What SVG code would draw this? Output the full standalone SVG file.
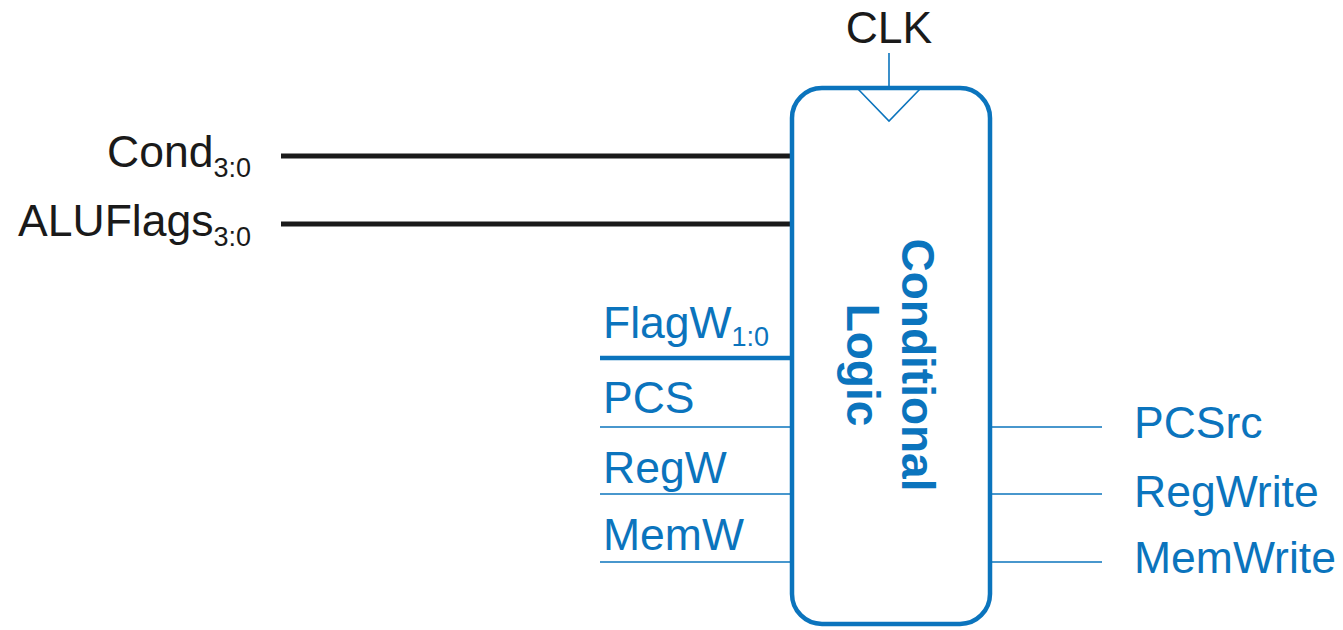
<svg xmlns="http://www.w3.org/2000/svg" width="1343" height="630" viewBox="0 0 1343 630">
<style>
text{font-family:"Liberation Sans",Arial,sans-serif;font-size:44.5px}
.k{fill:#1a1a1a}
.b{fill:#0B74BD}
.sub{font-size:27px}
.bold{font-weight:bold;font-size:46px}
.thick{stroke:#1a1a1a;stroke-width:5;fill:none}
.bthick{stroke:#0B74BD;stroke-width:4.5;fill:none}
.thin{stroke:#0B74BD;stroke-width:1.6;fill:none}
</style>
<rect width="1343" height="630" fill="#fff"/>
<g id="connectors">
<line class="thick" x1="281" y1="156" x2="791" y2="156"/>
<line class="thick" x1="281" y1="224" x2="791" y2="224"/>
<line class="bthick" x1="600" y1="358" x2="791" y2="358"/>
<line class="thin" x1="600" y1="427" x2="791" y2="427"/>
<line class="thin" x1="600" y1="494" x2="791" y2="494"/>
<line class="thin" x1="600" y1="562" x2="791" y2="562"/>
<line class="thin" x1="990" y1="427" x2="1102" y2="427"/>
<line class="thin" x1="990" y1="494" x2="1102" y2="494"/>
<line class="thin" x1="990" y1="562" x2="1102" y2="562"/>
<line class="thin" x1="889" y1="53" x2="889" y2="88"/>
</g>
<g id="conditional-logic">
<rect x="792" y="88" width="198" height="536" rx="30" ry="30" fill="none" stroke="#0B74BD" stroke-width="4.5"/>
<polyline class="thin" points="858,89 889,121 920,89"/>
<text class="b bold" transform="translate(902,365) rotate(90)" text-anchor="middle">Conditional</text>
<text class="b bold" transform="translate(847,365) rotate(90)" text-anchor="middle">Logic</text>
</g>
<g id="clk"><text class="k" x="889" y="43" text-anchor="middle">CLK</text></g>
<g id="cond"><text class="k" x="251" y="167" text-anchor="end">Cond<tspan class="sub" dy="10">3:0</tspan></text></g>
<g id="aluflags"><text class="k" x="251" y="236" text-anchor="end">ALUFlags<tspan class="sub" dy="10">3:0</tspan></text></g>
<g id="flagw"><text class="b" x="603" y="338">FlagW<tspan class="sub" dy="8">1:0</tspan></text></g>
<g id="pcs"><text class="b" x="603" y="413">PCS</text></g>
<g id="regw"><text class="b" x="603" y="483">RegW</text></g>
<g id="memw"><text class="b" x="603" y="550">MemW</text></g>
<g id="pcsrc"><text class="b" x="1134" y="438">PCSrc</text></g>
<g id="regwrite"><text class="b" x="1134" y="507">RegWrite</text></g>
<g id="memwrite"><text class="b" x="1134" y="573">MemWrite</text></g>
</svg>
